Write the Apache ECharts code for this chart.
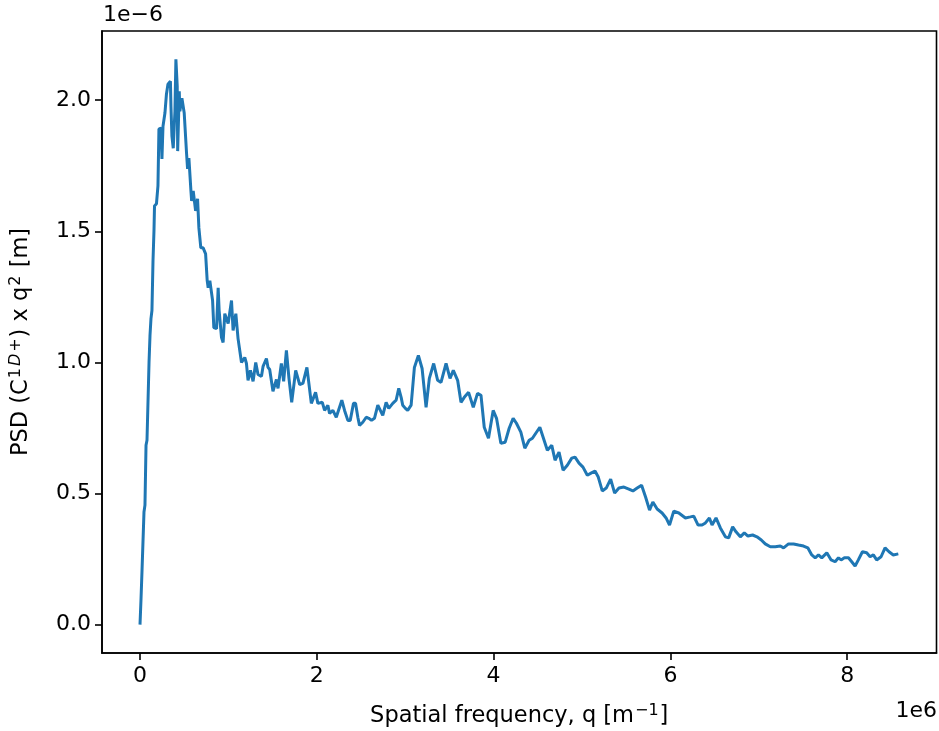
<!DOCTYPE html>
<html>

<head>
    <meta charset="utf-8" />
    <style type="text/css">
        html, body {
            margin: 0;
            padding: 0;
            background: #fff;
        }
    </style>
    <script src="https://cdn.jsdelivr.net/npm/echarts@6/dist/echarts.min.js"></script>
</head>

<body>
    <div id="main" style="width: 939px; height: 731px"></div>
    <script type="text/javascript">
        // spatial frequency q, in units of 1e6 m^-1
        var qVals = [
            0, 0.011, 0.023, 0.045, 0.056, 0.068, 0.079, 0.102, 0.113, 0.124,
            0.135, 0.147, 0.158, 0.164, 0.186, 0.203, 0.214, 0.237, 0.248, 0.260,
            0.282, 0.299, 0.316, 0.344, 0.350, 0.361, 0.376, 0.395, 0.406, 0.421,
            0.426, 0.444, 0.451, 0.474, 0.500, 0.527, 0.538, 0.553, 0.576, 0.584,
            0.602, 0.629, 0.651, 0.666, 0.688, 0.714, 0.742, 0.760, 0.771, 0.790,
            0.821, 0.835, 0.866, 0.884, 0.895, 0.922, 0.940, 0.959, 0.979, 0.997,
            1.016, 1.035, 1.053, 1.084, 1.109, 1.148, 1.185, 1.204, 1.222, 1.249,
            1.279, 1.309, 1.335, 1.374, 1.392, 1.430, 1.448, 1.467, 1.504, 1.543,
            1.561, 1.599, 1.625, 1.656, 1.685, 1.716, 1.761, 1.806, 1.843, 1.888,
            1.938, 1.986, 2.012, 2.062, 2.088, 2.125, 2.144, 2.182, 2.220, 2.283,
            2.314, 2.351, 2.378, 2.415, 2.438, 2.464, 2.483, 2.520, 2.559, 2.588,
            2.619, 2.652, 2.690, 2.709, 2.746, 2.784, 2.814, 2.859, 2.897, 2.927,
            2.954, 2.972, 3.002, 3.028, 3.067, 3.104, 3.149, 3.191, 3.236, 3.273,
            3.322, 3.367, 3.405, 3.462, 3.507, 3.544, 3.593, 3.631, 3.668, 3.717,
            3.770, 3.818, 3.857, 3.894, 3.942, 3.995, 4.033, 4.082, 4.131, 4.176,
            4.221, 4.258, 4.308, 4.353, 4.402, 4.439, 4.477, 4.523, 4.560, 4.608,
            4.658, 4.695, 4.740, 4.786, 4.834, 4.884, 4.921, 4.966, 5.011, 5.060,
            5.102, 5.147, 5.184, 5.229, 5.274, 5.324, 5.369, 5.418, 5.474, 5.530,
            5.576, 5.624, 5.674, 5.719, 5.764, 5.801, 5.850, 5.906, 5.951, 5.990,
            6.038, 6.095, 6.170, 6.227, 6.264, 6.313, 6.358, 6.396, 6.441, 6.471,
            6.516, 6.565, 6.622, 6.659, 6.704, 6.742, 6.791, 6.836, 6.877, 6.930,
            6.979, 7.028, 7.073, 7.130, 7.186, 7.243, 7.280, 7.336, 7.393, 7.449,
            7.506, 7.554, 7.599, 7.638, 7.675, 7.712, 7.769, 7.818, 7.863, 7.901,
            7.931, 7.968, 8.014, 8.051, 8.089, 8.126, 8.172, 8.220, 8.259, 8.296,
            8.333, 8.383, 8.428, 8.473, 8.521, 8.578
        ];
        // PSD (C1D+) x q^2, in units of 1e-6 m
        var psdVals = [
            0, 0.095, 0.209, 0.430, 0.456, 0.684, 0.703, 1.000, 1.103, 1.167,
            1.198, 1.388, 1.502, 1.597, 1.605, 1.673, 1.890, 1.894, 1.776, 1.901,
            1.951, 2.023, 2.061, 2.072, 1.977, 1.863, 1.817, 1.958, 2.156, 2.053,
            1.806, 2.034, 1.958, 2.008, 1.951, 1.795, 1.738, 1.779, 1.654, 1.616,
            1.654, 1.578, 1.624, 1.513, 1.437, 1.437, 1.414, 1.312, 1.285, 1.312,
            1.236, 1.133, 1.129, 1.285, 1.198, 1.095, 1.076, 1.186, 1.190, 1.148,
            1.141, 1.236, 1.122, 1.186, 1.091, 1.000, 1.019, 0.996, 0.932, 0.970,
            0.928, 1.000, 0.954, 0.947, 0.985, 1.015, 0.981, 0.973, 0.890, 0.935,
            0.901, 0.996, 0.928, 1.046, 0.939, 0.848, 0.970, 0.916, 0.920, 0.981,
            0.844, 0.886, 0.844, 0.848, 0.817, 0.837, 0.806, 0.817, 0.791, 0.856,
            0.817, 0.779, 0.779, 0.844, 0.844, 0.791, 0.760, 0.772, 0.791, 0.787,
            0.779, 0.787, 0.837, 0.844, 0.798, 0.848, 0.825, 0.844, 0.856, 0.901,
            0.867, 0.837, 0.825, 0.817, 0.837, 0.981, 1.027, 0.977, 0.829, 0.939,
            0.996, 0.932, 0.924, 0.996, 0.939, 0.970, 0.932, 0.848, 0.867, 0.886,
            0.829, 0.882, 0.875, 0.753, 0.711, 0.817, 0.787, 0.692, 0.696, 0.749,
            0.787, 0.768, 0.734, 0.673, 0.703, 0.711, 0.730, 0.753, 0.715, 0.665,
            0.684, 0.627, 0.658, 0.589, 0.608, 0.635, 0.639, 0.616, 0.601, 0.570,
            0.578, 0.586, 0.563, 0.510, 0.521, 0.555, 0.502, 0.521, 0.525, 0.517,
            0.510, 0.521, 0.532, 0.487, 0.437, 0.468, 0.441, 0.426, 0.407, 0.380,
            0.433, 0.426, 0.407, 0.411, 0.414, 0.380, 0.380, 0.388, 0.407, 0.380,
            0.407, 0.369, 0.335, 0.331, 0.373, 0.354, 0.335, 0.350, 0.338, 0.342,
            0.335, 0.323, 0.308, 0.297, 0.297, 0.300, 0.293, 0.308, 0.308, 0.304,
            0.300, 0.293, 0.266, 0.255, 0.266, 0.255, 0.274, 0.247, 0.240, 0.255,
            0.247, 0.255, 0.255, 0.240, 0.224, 0.247, 0.278, 0.274, 0.259, 0.266,
            0.247, 0.259, 0.293, 0.278, 0.266, 0.270
        ];
        var xTicks = [0, 2, 4, 6, 8];
        var yTicks = [0, 0.5, 1.0, 1.5, 2.0];

        var font = "DejaVu Sans";
        var chart = echarts.init(document.getElementById("main"));

        var lineData = qVals.map(function (q, i) {
            return [q, psdVals[i]];
        });

        // 上标样式
        var supStyle = { fontSize: 16, color: "#000", fontFamily: font, verticalAlign: "top", padding: [0, 1, 11, 1] };

        var option = {
            animation: false,
            backgroundColor: "#fff",
            grid: {
                left: 102,
                right: 2.5,
                top: 31,
                bottom: 78,
                show: true,
                borderColor: "#000",
                borderWidth: 1.6,
                outerBoundsMode: "none",
            },
            xAxis: {
                type: "value",
                min: -0.43,
                max: 9.01,
                axisLine: { show: true, onZero: false, lineStyle: { color: "#000", width: 1.6 } },
                axisTick: { show: true, customValues: xTicks, length: 7, lineStyle: { color: "#000", width: 1.6 } },
                axisLabel: {
                    customValues: xTicks,
                    fontSize: 22,
                    color: "#000",
                    fontFamily: font,
                    margin: 12,
                },
                splitLine: { show: false },
                name: "{n|Spatial frequency, q [m}{s|−1}{n|]}",
                nameLocation: "middle",
                nameGap: 50,
                nameTextStyle: {
                    rich: {
                        n: { fontSize: 22.5, color: "#000", fontFamily: font },
                        s: supStyle,
                    },
                },
            },
            yAxis: {
                type: "value",
                min: -0.108,
                max: 2.264,
                axisLine: { show: true, onZero: false, lineStyle: { color: "#000", width: 1.6 } },
                axisTick: { show: true, customValues: yTicks, length: 7, lineStyle: { color: "#000", width: 1.6 } },
                axisLabel: {
                    customValues: yTicks,
                    fontSize: 22,
                    color: "#000",
                    fontFamily: font,
                    margin: 11,
                    formatter: function (v) {
                        return v.toFixed(1);
                    },
                },
                splitLine: { show: false },
                name: "{n|PSD (C}{s|1}{si|D}{s|+}{n|) x q}{s|2}{n| [m]}",
                nameLocation: "middle",
                nameRotate: 90,
                nameGap: 67,
                nameTextStyle: {
                    rich: {
                        n: { fontSize: 22.5, color: "#000", fontFamily: font },
                        s: supStyle,
                        si: Object.assign({}, supStyle, { fontStyle: "italic" }),
                    },
                },
            },
            graphic: [
                {
                    type: "text",
                    left: 103,
                    top: 4,
                    style: { text: "1e−6", fontSize: 22, fill: "#000", fontFamily: font },
                },
                {
                    type: "text",
                    right: 2,
                    top: 700,
                    style: { text: "1e6", fontSize: 22, fill: "#000", fontFamily: font },
                },
            ],
            series: [
                {
                    type: "line",
                    data: lineData,
                    showSymbol: false,
                    lineStyle: { color: "#1f77b4", width: 3 },
                    itemStyle: { color: "#1f77b4" },
                },
            ],
        };

        chart.setOption(option);
    </script>
</body>

</html>
